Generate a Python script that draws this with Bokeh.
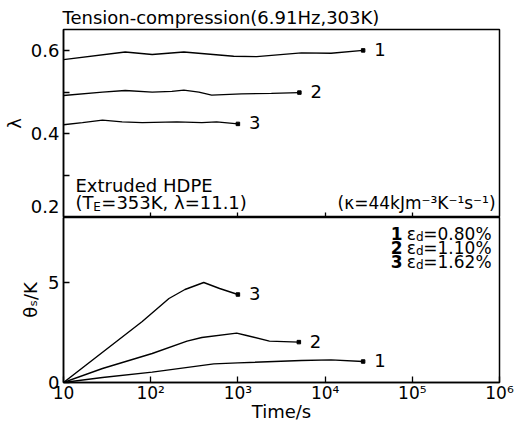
from bokeh.plotting import figure
from bokeh.models import Range1d, FixedTicker, Label
from bokeh.layouts import column
from bokeh.embed import file_html
from bokeh.resources import INLINE
from bokeh.core.properties import value

# ---------------- data ----------------
x_ticks = [10, 100, 1000, 10000, 100000, 1000000]
x_tick_labels = ["10", "10²", "10³", "10⁴", "10⁵", "10⁶"]
lam_ticks = [0.2, 0.3, 0.4, 0.5, 0.6]
lam_labelled = [0.2, 0.4, 0.6]
theta_ticks = [0, 5]

series_names = ["1", "2", "3"]
strain_values = ["0.80%", "1.10%", "1.62%"]

# upper panel: draw ratio lambda vs time
t_lam1 = [10, 51, 104, 240, 895, 1640, 5350, 11700, 27300]
lam1 = [0.578, 0.596, 0.590, 0.596, 0.586, 0.585, 0.594, 0.593, 0.600]
t_lam2 = [10, 28, 51, 104, 175, 240, 357, 500, 1100, 2420, 5070]
lam2 = [0.492, 0.500, 0.504, 0.500, 0.502, 0.505, 0.500, 0.493, 0.496, 0.497, 0.499]
t_lam3 = [10, 16.5, 28, 47, 80, 200, 386, 570, 1000]
lam3 = [0.422, 0.427, 0.433, 0.429, 0.427, 0.429, 0.427, 0.429, 0.424]

# lower panel: temperature rise theta_s vs time
t_th1 = [10, 28, 104, 530, 1000, 5350, 11700, 27300]
th1 = [0.0, 0.25, 0.52, 0.93, 0.98, 1.10, 1.13, 1.05]
t_th2 = [10, 28, 104, 261, 386, 968, 1260, 2300, 5000]
th2 = [0.0, 0.70, 1.45, 2.07, 2.25, 2.47, 2.35, 2.07, 2.02]
t_th3 = [10, 80, 162, 247, 406, 617, 1000]
th3 = [0.0, 3.05, 4.20, 4.65, 5.00, 4.70, 4.40]

# ---------------- layout ----------------
FONT = "DejaVu Sans"
W, H = 522, 424
LEFT, RIGHT = 61, 499
TOP, MID, BOT = 29, 217, 382
LAM_RANGE = (0.2, 0.65)
TH_RANGE = (0.0, 8.25)
LAM_PER_PX = (LAM_RANGE[1] - LAM_RANGE[0]) / (MID - TOP)


def px_to_x(px):
    return 10 ** (1 + 5 * (px - LEFT) / (RIGHT - LEFT))


def top_y(py):
    return LAM_RANGE[1] - LAM_PER_PX * (py - TOP)


def bot_y(py):
    return TH_RANGE[1] * (BOT - py) / (BOT - MID)


def style(p):
    p.grid.visible = False
    p.outline_line_color = "black"
    p.outline_line_width = 1.5
    p.background_fill_color = "white"
    p.border_fill_color = "white"
    for ax in p.axis:
        ax.axis_line_color = "black"
        ax.axis_line_width = 1.5
        ax.major_tick_line_color = "black"
        ax.minor_tick_line_color = "black"
        ax.major_tick_line_width = 1.3
        ax.minor_tick_line_width = 1.3
        ax.major_tick_in = 6
        ax.major_tick_out = 0
        ax.minor_tick_in = 6
        ax.minor_tick_out = 0
        ax.major_label_text_font = FONT
        ax.major_label_text_font_size = "18px"
        ax.major_label_text_color = "black"
        ax.axis_label_text_font = FONT
        ax.axis_label_text_font_size = "18px"
        ax.axis_label_text_font_style = "normal"
        ax.axis_label_text_color = "black"


p1 = figure(width=W, height=MID, x_axis_type="log",
            x_range=Range1d(10, 1e6), y_range=Range1d(*LAM_RANGE),
            output_backend="svg", toolbar_location=None,
            min_border_left=LEFT, min_border_right=W - RIGHT,
            min_border_top=TOP, min_border_bottom=0)
style(p1)
p1.title.text = "Tension-compression(6.91Hz,303K)"
p1.title.text_font = FONT
p1.title.text_font_size = "18px"
p1.title.text_font_style = "normal"
p1.title.text_color = "black"
p1.title.align = "left"
p1.title.offset = -1
p1.title.standoff = 4

# tick marks at every 0.1 (drawn as minor ticks); the labels sit on the
# major ticks, the lowest one lifted a few pixels so it stays above the
# panel divider as in the original figure
lift = 11 * LAM_PER_PX
label_pos = [round(v + (lift if v == LAM_RANGE[0] else 0), 4) for v in lam_labelled]
p1.yaxis.ticker = FixedTicker(ticks=label_pos, minor_ticks=lam_ticks)
p1.yaxis.major_label_overrides = {pos: f"{v:.1f}" for pos, v in zip(label_pos, lam_labelled)}
p1.yaxis.major_tick_in = 0
p1.yaxis.major_label_standoff = 4
p1.yaxis.axis_label = "λ"
p1.yaxis.axis_label_standoff = 3
p1.xaxis.ticker = FixedTicker(ticks=x_ticks[1:-1])
p1.xaxis.major_tick_in = 5
p1.xaxis.major_label_overrides = {k: "" for k in x_ticks[1:-1]}
p1.xaxis.major_label_text_font_size = "1px"
p1.xaxis.major_label_standoff = 0

p2 = figure(width=W, height=H - MID, x_axis_type="log",
            x_range=Range1d(10, 1e6), y_range=Range1d(*TH_RANGE),
            output_backend="svg", toolbar_location=None,
            min_border_left=LEFT, min_border_right=W - RIGHT,
            min_border_top=0, min_border_bottom=H - BOT)
style(p2)
p2.yaxis.ticker = FixedTicker(ticks=theta_ticks)
p2.yaxis.major_label_standoff = 4
p2.yaxis.axis_label = "θₛ/K"
p2.yaxis.axis_label_standoff = 4
p2.xaxis.ticker = FixedTicker(ticks=x_ticks)
p2.xaxis.major_label_overrides = {k: v for k, v in zip(x_ticks, x_tick_labels)}
p2.xaxis.major_label_text_font_size = "17px"
p2.xaxis.major_label_standoff = 0
p2.xaxis.axis_label = "Time/s"
p2.xaxis.axis_label_standoff = -5

# ---------------- curves ----------------
top_series = [(t_lam1, lam1), (t_lam2, lam2), (t_lam3, lam3)]
bot_series = [(t_th1, th1), (t_th2, th2), (t_th3, th3)]
for p, series in ((p1, top_series), (p2, bot_series)):
    for name, (t, v) in zip(series_names, series):
        p.line(t, v, line_color="black", line_width=1.4)
        p.scatter([t[-1]], [v[-1]], marker="square", size=3.5,
                  fill_color="black", line_color="black")
        p.text([t[-1]], [v[-1]], text=[name], x_offset=11, y_offset=-1,
               text_baseline="middle", text_align="left",
               text_font=value(FONT), text_font_size="18px",
               text_color="black")


def add_label(p, x, y, text, size="18px", align="left", style="normal"):
    p.add_layout(Label(x=x, y=y, text=text, text_font=FONT,
                       text_font_size=size, text_align=align,
                       text_baseline="alphabetic", text_font_style=style,
                       text_color="black"))


# annotations, upper panel
add_label(p1, px_to_x(73), top_y(185), "Extruded HDPE")
add_label(p1, px_to_x(73), top_y(202), "(T")
add_label(p1, px_to_x(91), top_y(206), "E", size="12px")
add_label(p1, px_to_x(99), top_y(202), "=353K, λ=11.1)")
add_label(p1, px_to_x(495), top_y(202), "(κ=44kJm⁻³K⁻¹s⁻¹)", size="17px",
          align="right")

# strain amplitude legend, lower panel (right aligned pieces)
W_MAIN = {"=": 0.838, "%": 0.950, ".": 0.318}
row_base = [233, 247, 261]
FS = 17
for name, sv, py in zip(series_names, strain_values, row_base):
    main = "=" + sv
    w_main = sum(W_MAIN.get(c, 0.636) for c in main) * FS
    xr = 491
    add_label(p2, px_to_x(xr), bot_y(py), main, size=f"{FS}px", align="right")
    xr -= w_main
    add_label(p2, px_to_x(xr), bot_y(py + 3), "d", size="12px", align="right")
    xr -= 0.635 * 12
    add_label(p2, px_to_x(xr), bot_y(py), "ε", size=f"{FS}px", align="right")
    xr -= 0.56 * FS + 4
    add_label(p2, px_to_x(xr), bot_y(py), name, size=f"{FS}px", align="right",
              style="bold")

layout = column(p1, p2, spacing=0)
open("out.html", "w").write(file_html(layout, INLINE))
